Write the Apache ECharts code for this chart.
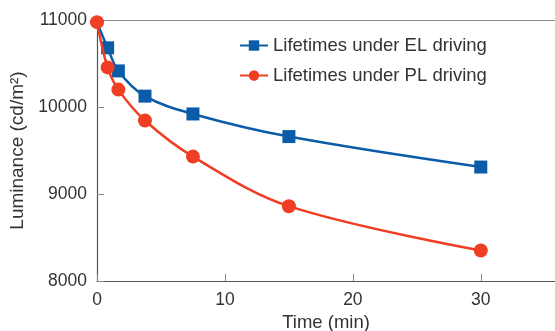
<!DOCTYPE html>
<html>
<head>
<meta charset="utf-8">
<script src="https://cdn.jsdelivr.net/npm/echarts@6/dist/echarts.min.js"></script>
<style>
  html, body { margin: 0; padding: 0; background: #fff; }
  #chart { width: 555px; height: 331px; }
</style>
</head>
<body>
<div id="chart"></div>
<script>
// time points (min) and luminance (cd/m2)
const timesEL = [0, 0.83, 1.67, 3.75, 7.5, 15, 30];
const lumEL = [10975, 10680, 10415, 10125, 9920, 9660, 9310];
const timesPL = [0, 0.83, 1.67, 3.75, 7.5, 15, 30];
const lumPL = [10975, 10455, 10200, 9845, 9430, 8860, 8350];
const seriesNames = ['Lifetimes under EL driving', 'Lifetimes under PL driving'];

const blue = '#0b5ca8';
const red = '#ef3e24';
const axisColor = '#555';
const font = 'Liberation Sans, Arial, sans-serif';

const chart = echarts.init(document.getElementById('chart'));

// the EL start point sits under the PL circle, so no marker there
const pairs = (xs, ys, hideFirst) => xs.map((x, i) =>
    (hideFirst && i === 0) ? { value: [x, ys[i]], symbol: 'none' } : [x, ys[i]]);

chart.setOption({
    animation: false,
    textStyle: { fontFamily: font },
    grid: { left: 97, right: 0, top: 20, bottom: 50, outerBoundsMode: 'none' },
    legend: {
        left: 234,
        top: 31,
        orient: 'vertical',
        itemWidth: 28,
        itemHeight: 13,
        itemGap: 11,
        textStyle: { fontSize: 18.5, color: '#333', fontFamily: font },
        data: seriesNames
    },
    xAxis: [
        {
            type: 'value',
            min: 0,
            max: 35.8,
            interval: 10,
            name: 'Time (min)',
            nameLocation: 'middle',
            nameGap: 32,
            nameTextStyle: { fontSize: 18.5, color: '#333' },
            axisLine: { lineStyle: { color: axisColor, width: 1.2 } },
            axisTick: { inside: true, length: 7, lineStyle: { color: '#888' } },
            axisLabel: { fontSize: 17.5, color: '#333', margin: 10, showMaxLabel: false },
            splitLine: { show: false }
        },
        {
            type: 'value',
            position: 'top',
            min: 0,
            max: 35.8,
            axisLine: { show: true, lineStyle: { color: '#888', width: 1.2 } },
            axisTick: { show: false },
            axisLabel: { show: false },
            splitLine: { show: false }
        }
    ],
    yAxis: {
        type: 'value',
        min: 8000,
        max: 11000,
        interval: 1000,
        name: 'Luminance (cd/m²)',
        nameLocation: 'middle',
        nameGap: 64,
        nameTextStyle: { fontSize: 19, color: '#333' },
        axisLine: { show: true, lineStyle: { color: axisColor, width: 1.2 } },
        axisTick: { inside: true, length: 7, lineStyle: { color: '#888' } },
        axisLabel: { fontSize: 17.5, color: '#333', margin: 10, formatter: v => String(v) },
        splitLine: { show: false }
    },
    series: [
        {
            name: seriesNames[0],
            type: 'line',
            data: pairs(timesEL, lumEL, true),
            smooth: 0.35,
            symbol: 'rect',
            symbolSize: 13,
            lineStyle: { color: blue, width: 2.5 },
            itemStyle: { color: blue },
            z: 2
        },
        {
            name: seriesNames[1],
            type: 'line',
            data: pairs(timesPL, lumPL, false),
            smooth: 0.35,
            symbol: 'circle',
            symbolSize: 14,
            lineStyle: { color: red, width: 2.5 },
            itemStyle: { color: red },
            z: 3
        }
    ]
});
</script>
</body>
</html>
